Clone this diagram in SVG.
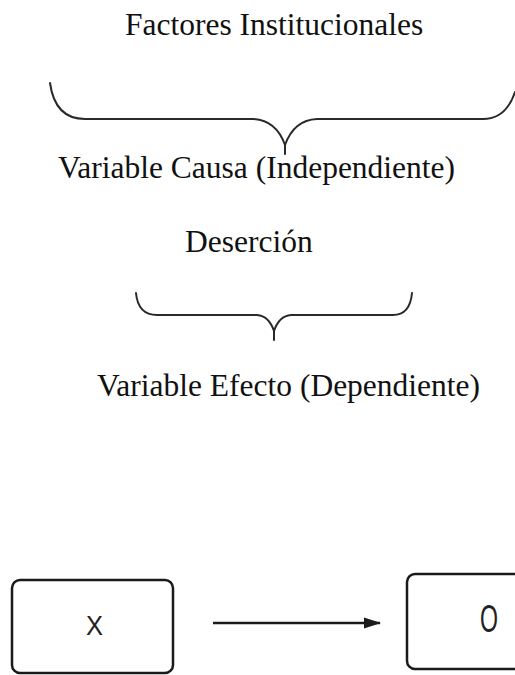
<svg xmlns="http://www.w3.org/2000/svg" width="515" height="675" viewBox="0 0 515 675">
<style>
.t{font-family:"Liberation Serif","Times New Roman",serif;font-size:31.5px;fill:#111}
.b{fill:none;stroke:#2a2a2a;stroke-width:2;stroke-linecap:round}
.box{fill:#fff;stroke:#1a1a1a;stroke-width:2.5}
.s{font-family:"Liberation Sans",Arial,sans-serif;fill:#222}
</style>
<defs>
<marker id="ah" markerWidth="18" markerHeight="14" refX="16" refY="6.5" orient="auto" markerUnits="userSpaceOnUse">
<path d="M0,1 L17,6.5 L0,12 Z" fill="#1a1a1a"/>
</marker>
</defs>
<rect width="515" height="675" fill="#fff"/>
<g id="factores"><text class="t" x="125" y="35">Factores Institucionales</text></g>
<g id="brace1">
<path class="b" d="M50,83 Q55,119 85,119 L253,119 Q276,120 285,145 L285,154 M285,145 Q294,120 317,119 L483,119 Q506,119 515,92"/>
</g>
<g id="causa"><text class="t" x="58" y="178">Variable Causa (Independiente)</text></g>
<g id="desercion"><text class="t" x="185" y="252">Deserción</text></g>
<g id="brace2">
<path class="b" d="M136,293 Q138,315 157,315 L257,315 Q269,316 274,331 L274,340 M274,331 Q279,316 291,315 L393,315 Q410,315 412,293"/>
</g>
<g id="efecto"><text class="t" x="97" y="396">Variable Efecto (Dependiente)</text></g>
<g id="nodeX">
<rect class="box" x="12" y="580" width="161" height="93" rx="8"/>
<text class="s" x="86" y="635" font-size="28" textLength="17" lengthAdjust="spacingAndGlyphs">X</text>
</g>
<g id="nodeO">
<rect class="box" x="407" y="574" width="120" height="95" rx="8"/>
<text class="s" x="480" y="632" font-size="38" textLength="18" lengthAdjust="spacingAndGlyphs">O</text>
</g>
<g id="connectors">
<line x1="213" y1="623" x2="380" y2="623" stroke="#1a1a1a" stroke-width="2.5" marker-end="url(#ah)"/>
</g>
</svg>
